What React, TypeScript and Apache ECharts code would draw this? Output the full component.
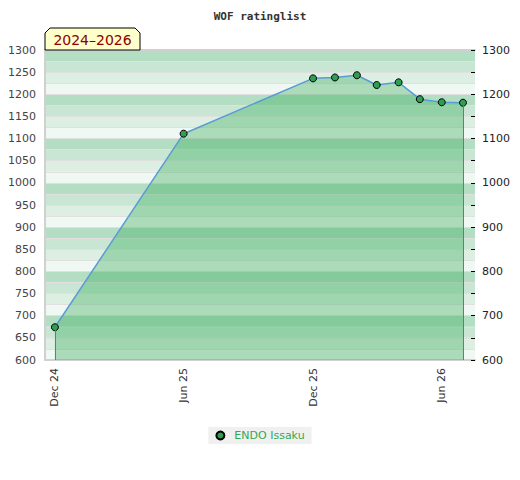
import React, { useEffect, useRef } from "react";
import * as echarts from "echarts";

const titleText = "WOF ratinglist";
const rangeLabel = "2024–2026";
const seriesName = "ENDO Issaku";

// [year, month(0-based), day]
const pointDates: [number, number, number][] = [
  [2024, 11, 1],
  [2025, 5, 1],
  [2025, 11, 1],
  [2026, 0, 1],
  [2026, 1, 1],
  [2026, 2, 1],
  [2026, 3, 1],
  [2026, 4, 1],
  [2026, 5, 1],
  [2026, 6, 1],
];
const ratings = [674, 1111, 1236, 1238, 1243, 1221, 1227, 1189, 1182, 1181];

const tickDates: [number, number, number][] = [
  [2024, 11, 1],
  [2025, 5, 1],
  [2025, 11, 1],
  [2026, 5, 1],
];
const tickLabels = ["Dec 24", "Jun 25", "Dec 25", "Jun 26"];

const xMinDate: [number, number, number] = [2024, 10, 17];
const xMaxDate: [number, number, number] = [2026, 6, 18];

const yMin = 600;
const yMax = 1300;
const bandColors = ["#eff8f2", "#dcefe2", "#c8e6d3", "#b3dec3"];

const ts = (d: [number, number, number]) => new Date(d[0], d[1], d[2]).getTime();

export default function App() {
  const ref = useRef<HTMLDivElement>(null);
  useEffect(() => {
    document.body.style.margin = "0";
    if (!ref.current) return;
    const chart = echarts.init(ref.current, null, { renderer: "svg" });
    const data = pointDates.map((d, i) => [ts(d), ratings[i]]);
    const tickTs = tickDates.map(ts);
    const first = data[0];
    const last = data[data.length - 1];
    const font = "DejaVu Sans";
    chart.setOption({
      animation: false,
      title: {
        text: titleText,
        left: "center",
        top: 6,
        textStyle: {
          fontFamily: "DejaVu Sans Mono",
          fontSize: 11,
          fontWeight: "bold",
          color: "#333",
        },
      },
      grid: { left: 45, right: 45, top: 50, bottom: 120 },
      legend: {
        data: [seriesName],
        left: "center",
        top: 427,
        icon: "circle",
        itemWidth: 8,
        itemHeight: 8,
        backgroundColor: "#f0f0f0",
        padding: [3, 7, 3, 7],
        textStyle: { color: "#33a852", fontSize: 11, fontFamily: font, padding: [0, 0, 0, 5] },
      },
      xAxis: [
        {
          type: "value",
          min: ts(xMinDate),
          max: ts(xMaxDate),
          axisLine: { show: true, lineStyle: { color: "#d0d0d0", width: 2 } },
          axisTick: { show: false },
          splitLine: { show: false },
          axisLabel: {
            customValues: tickTs,
            rotate: 90,
            margin: 8,
            color: "#333",
            fontSize: 11,
            fontFamily: font,
            formatter: (v: number) => {
              const i = tickTs.indexOf(v);
              return i >= 0 ? tickLabels[i] : "";
            },
          },
        },
        {
          type: "value",
          position: "top",
          min: ts(xMinDate),
          max: ts(xMaxDate),
          axisLine: { show: true, lineStyle: { color: "#d0d0d0", width: 2 } },
          axisTick: { show: false },
          axisLabel: { show: false },
          splitLine: { show: false },
        },
      ],
      yAxis: [
        {
          type: "value",
          min: yMin,
          max: yMax,
          interval: 25,
          position: "left",
          axisLine: { show: false },
          axisTick: { show: false },
          axisLabel: { show: false },
          splitLine: { show: true, lineStyle: { color: "#e0e0e0", width: 1 } },
          splitArea: { show: true, areaStyle: { color: bandColors } },
        },
        {
          type: "value",
          min: yMin,
          max: yMax,
          interval: 50,
          position: "left",
          axisLine: { show: true, lineStyle: { color: "#d0d0d0", width: 2 } },
          axisTick: { show: false },
          splitLine: { show: false },
          axisLabel: {
            color: "#444",
            fontSize: 11,
            fontFamily: font,
            margin: 9,
            formatter: (v: number) => String(v),
          },
        },
        {
          type: "value",
          min: yMin,
          max: yMax,
          interval: 50,
          position: "right",
          axisLine: { show: false },
          axisTick: { show: true, inside: true, length: 4, lineStyle: { color: "#000" } },
          splitLine: { show: false },
          axisLabel: {
            color: "#222",
            fontSize: 11,
            fontFamily: font,
            margin: 7,
            formatter: (v: number) => (v % 100 === 0 ? String(v) : ""),
          },
        },
      ],
      series: [
        {
          name: seriesName,
          type: "line",
          yAxisIndex: 1,
          data,
          symbol: "circle",
          symbolSize: 7,
          lineStyle: { color: "#5b9bd5", width: 1.5 },
          itemStyle: { color: "#2e9e52", borderColor: "#000", borderWidth: 1 },
          areaStyle: { color: "rgba(46,165,80,0.5)", origin: "start" },
          markLine: {
            silent: true,
            symbol: "none",
            label: { show: false },
            lineStyle: { color: "#3a9a5a", width: 1, type: "solid" },
            data: [
              [{ coord: [first[0], first[1]] }, { coord: [first[0], yMin] }],
              [{ coord: [last[0], last[1]] }, { coord: [last[0], yMin] }],
            ],
          },
        },
      ],
      graphic: [
        {
          type: "polygon",
          shape: {
            points: [
              [45, 50],
              [45, 33],
              [50, 28],
              [135, 28],
              [140, 33],
              [140, 50],
            ],
          },
          style: { fill: "#ffffcc", stroke: "#000", lineWidth: 1 },
          z: 10,
        },
        {
          type: "text",
          x: 92.5,
          y: 40,
          style: {
            text: rangeLabel,
            fill: "#8b0000",
            font: "14px DejaVu Sans",
            textAlign: "center",
            textVerticalAlign: "middle",
          },
          z: 11,
        },
      ],
    });
    return () => chart.dispose();
  }, []);
  return <div ref={ref} style={{ width: 520, height: 480 }} />;
}
